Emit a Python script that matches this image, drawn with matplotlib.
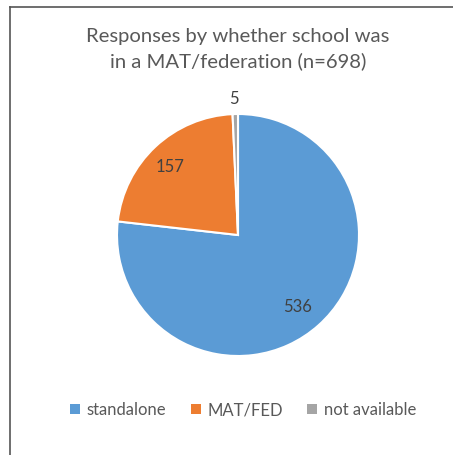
import matplotlib
matplotlib.use("Agg")
import matplotlib.pyplot as plt

categories = ["standalone", "MAT/FED", "not available"]
values = [536, 157, 5]
colors = ["#5B9BD5", "#ED7D31", "#A5A5A5"]
title = "Responses by whether school was\nin a MAT/federation (n=698)"

plt.rcParams['font.family'] = ['Lato', 'DejaVu Sans']
W, H = 453, 455
fig = plt.figure(figsize=(W/100, H/100), dpi=100)
fig.patch.set_facecolor("white")

# border lines (top and left)
fig.add_artist(plt.Line2D([10/W, 1], [1-7/H, 1-7/H], color="#555555", lw=1.2, transform=fig.transFigure))
fig.add_artist(plt.Line2D([10/W, 10/W], [0, 1-7/H], color="#555555", lw=1.2, transform=fig.transFigure))

cx, cy, r = 238, 235, 121
ax = fig.add_axes([(cx-r)/W, 1-(cy+r)/H, 2*r/W, 2*r/H])
wedges, _ = ax.pie(values, colors=colors, startangle=90, counterclock=False,
                   wedgeprops=dict(edgecolor="white", linewidth=1.5), radius=1.0)
ax.set_xlim(-1, 1); ax.set_ylim(-1, 1)
ax.set_aspect("equal")
ax.axis("off")

# data labels
label_pos = [(298, 307), (170, 167), (234, 99)]
for (x, y), v in zip(label_pos, values):
    fig.text(x/W, 1-y/H, str(v), ha="center", va="center", fontsize=12, color="#404040")

fig.text(238/W, 1-49/H, title, ha="center", va="center", fontsize=14.6,
         color="#595959", linespacing=1.45)

leg = fig.legend(wedges, categories, loc="center", bbox_to_anchor=(243/W, 1-410/H),
                 ncol=3, frameon=False, fontsize=12, handlelength=0.6, handleheight=0.6,
                 handletextpad=0.4, columnspacing=1.45, labelcolor="#595959")
for h in leg.legend_handles:
    h.set_edgecolor("none")

fig.savefig("out.png", dpi=100)
